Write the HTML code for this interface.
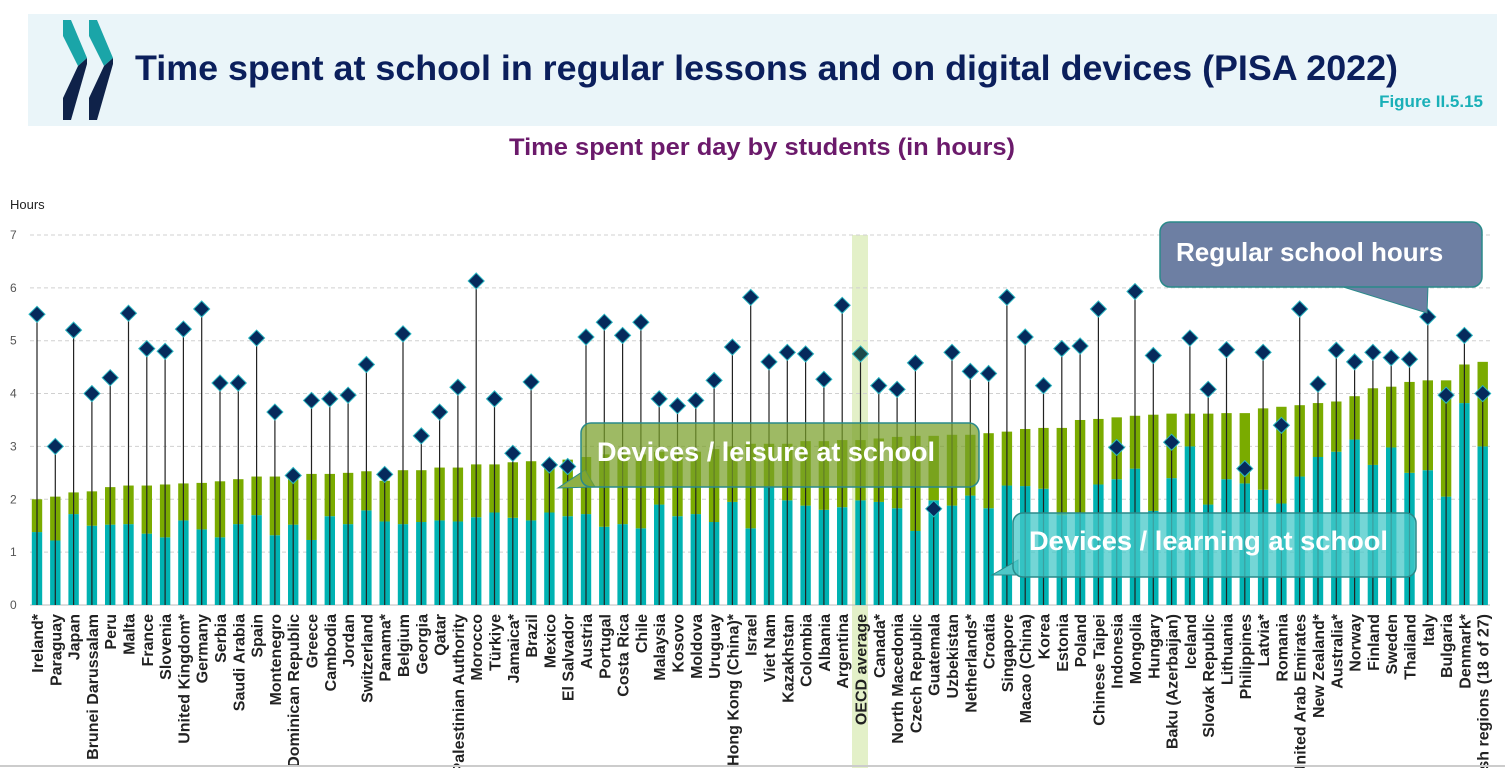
<!DOCTYPE html>
<html><head><meta charset="utf-8"><style>
body{margin:0;background:#fff;width:1505px;height:768px;overflow:hidden;font-family:"Liberation Sans",sans-serif}
svg{display:block}
</style></head><body>
<svg id="s" width="1505" height="768" xmlns="http://www.w3.org/2000/svg" font-family="Liberation Sans, sans-serif">
<rect x="28" y="14" width="1469" height="112" fill="#eaf5f9"/>
<polygon points="63,20 71,20 87,58 78,66 63,36" fill="#1aa5a8"/>
<polygon points="78,66 87,58 87,64 71,120 63,120 63,98" fill="#0f2249"/>
<polygon points="89,20 97,20 113,58 104,66 89,36" fill="#1aa5a8"/>
<polygon points="104,66 113,58 113,64 97,120 89,120 89,98" fill="#0f2249"/>
<text x="135" y="80" font-size="35" font-weight="bold" fill="#0b1f5c" textLength="1263" lengthAdjust="spacingAndGlyphs">Time spent at school in regular lessons and on digital devices (PISA 2022)</text>
<text x="1483" y="107" font-size="17" font-weight="bold" fill="#1ab0b8" text-anchor="end">Figure II.5.15</text>
<text x="762" y="155" font-size="24" font-weight="bold" fill="#6b1a6b" text-anchor="middle" textLength="506" lengthAdjust="spacingAndGlyphs">Time spent per day by students (in hours)</text>
<text x="10" y="209" font-size="13" fill="#222">Hours</text>
<rect x="852" y="235" width="16" height="533" fill="#e3f0c8"/>
<g id="grid" font-size="12" fill="#555"></g>
<g id="bars"></g>
<g id="labels" font-size="16" font-weight="bold" fill="#222" text-anchor="end">
<text>Ireland*</text><text>Paraguay</text><text>Japan</text><text>Brunei Darussalam</text><text>Peru</text><text>Malta</text><text>France</text><text>Slovenia</text><text>United Kingdom*</text><text>Germany</text><text>Serbia</text><text>Saudi Arabia</text><text>Spain</text><text>Montenegro</text><text>Dominican Republic</text><text>Greece</text><text>Cambodia</text><text>Jordan</text><text>Switzerland</text><text>Panama*</text><text>Belgium</text><text>Georgia</text><text>Qatar</text><text>Palestinian Authority</text><text>Morocco</text><text>Türkiye</text><text>Jamaica*</text><text>Brazil</text><text>Mexico</text><text>El Salvador</text><text>Austria</text><text>Portugal</text><text>Costa Rica</text><text>Chile</text><text>Malaysia</text><text>Kosovo</text><text>Moldova</text><text>Uruguay</text><text>Hong Kong (China)*</text><text>Israel</text><text>Viet Nam</text><text>Kazakhstan</text><text>Colombia</text><text>Albania</text><text>Argentina</text><text>OECD average</text><text>Canada*</text><text>North Macedonia</text><text>Czech Republic</text><text>Guatemala</text><text>Uzbekistan</text><text>Netherlands*</text><text>Croatia</text><text>Singapore</text><text>Macao (China)</text><text>Korea</text><text>Estonia</text><text>Poland</text><text>Chinese Taipei</text><text>Indonesia</text><text>Mongolia</text><text>Hungary</text><text>Baku (Azerbaijan)</text><text>Iceland</text><text>Slovak Republic</text><text>Lithuania</text><text>Philippines</text><text>Latvia*</text><text>Romania</text><text>United Arab Emirates</text><text>New Zealand*</text><text>Australia*</text><text>Norway</text><text>Finland</text><text>Sweden</text><text>Thailand</text><text>Italy</text><text>Bulgaria</text><text>Denmark*</text><text>Spanish regions (18 of 27)</text>
</g>
<g>
<path d="M595,487 L558,488 L585,470 Z" fill="#8fb045" stroke="#2a8a8a"/>
<rect x="581" y="423" width="398" height="64" rx="10" fill="rgba(120,160,40,0.72)" stroke="#2a8a8a" stroke-width="1.5"/>
<text x="597" y="461" font-size="27" font-weight="bold" fill="#fff" textLength="338" lengthAdjust="spacingAndGlyphs">Devices / leisure at school</text>
<path d="M1018,560 L992,575 L1018,575 Z" fill="#4fc8c8" stroke="#2a8a8a"/>
<rect x="1013" y="513" width="403" height="64" rx="10" fill="rgba(70,200,200,0.75)" stroke="#2a8a8a" stroke-width="1.5"/>
<text x="1029" y="550" font-size="27" font-weight="bold" fill="#fff" textLength="359" lengthAdjust="spacingAndGlyphs">Devices / learning at school</text>
<path d="M1340,286 L1427,313 L1428,286 Z" fill="#6d7fa3" stroke="#2a8a8a"/>
<rect x="1160" y="222" width="322" height="65" rx="10" fill="#6d7fa3" stroke="#2a8a8a" stroke-width="1.5"/>
<text x="1176" y="261" font-size="26" font-weight="bold" fill="#fff">Regular school hours</text>
</g>
<line x1="0" y1="766" x2="1505" y2="766" stroke="#ccc" stroke-width="2"/>
</svg>
<script>
var D=[[1.38,2.0,5.5],[1.22,2.05,3.0],[1.72,2.13,5.2],[1.5,2.15,4.0],[1.52,2.23,4.3],[1.53,2.26,5.52],[1.35,2.26,4.85],[1.28,2.28,4.8],[1.6,2.3,5.22],[1.43,2.31,5.6],[1.28,2.34,4.2],[1.53,2.38,4.2],[1.7,2.43,5.05],[1.32,2.43,3.65],[1.52,2.38,2.45],[1.23,2.48,3.87],[1.68,2.48,3.9],[1.53,2.5,3.97],[1.79,2.53,4.55],[1.58,2.35,2.47],[1.53,2.55,5.13],[1.57,2.55,3.2],[1.6,2.6,3.65],[1.58,2.6,4.12],[1.66,2.66,6.13],[1.75,2.66,3.9],[1.65,2.7,2.87],[1.6,2.72,4.22],[1.75,2.7,2.65],[1.68,2.75,2.62],[1.72,2.8,5.07],[1.48,2.85,5.35],[1.53,2.85,5.1],[1.45,2.85,5.35],[1.9,2.9,3.9],[1.68,2.9,3.77],[1.72,2.9,3.87],[1.57,2.95,4.25],[1.95,3.0,4.88],[1.45,3.05,5.82],[2.25,3.05,4.6],[1.98,3.05,4.78],[1.88,3.1,4.75],[1.8,3.1,4.27],[1.85,3.12,5.67],[1.98,3.12,4.75],[1.95,3.15,4.15],[1.83,3.18,4.08],[1.4,3.2,4.58],[1.98,3.2,1.82],[1.88,3.22,4.78],[2.07,3.22,4.42],[1.83,3.25,4.38],[2.26,3.28,5.82],[2.25,3.33,5.07],[2.2,3.35,4.15],[1.7,3.35,4.85],[1.75,3.5,4.9],[2.28,3.52,5.6],[2.38,3.55,2.98],[2.58,3.58,5.93],[1.78,3.6,4.72],[2.4,3.62,3.08],[3.0,3.62,5.05],[1.9,3.62,4.08],[2.38,3.63,4.83],[2.3,3.63,2.58],[2.18,3.72,4.78],[1.92,3.75,3.4],[2.43,3.78,5.6],[2.8,3.82,4.18],[2.9,3.85,4.82],[3.13,3.95,4.6],[2.65,4.1,4.78],[2.98,4.13,4.68],[2.5,4.22,4.65],[2.55,4.25,5.45],[2.05,4.25,3.97],[3.82,4.55,5.1],[3.0,4.6,4.0]];
var NS="http://www.w3.org/2000/svg";
function Y(v){return 605-v*52.86;}
function el(p,t,a){var e=document.createElementNS(NS,t);for(var k in a)e.setAttribute(k,a[k]);p.appendChild(e);return e;}
var g=document.getElementById('grid');
for(var i=0;i<=7;i++){var y=Y(i);el(g,'line',{x1:30,x2:1490,y1:y,y2:y,stroke:i?'#d0d0d0':'#bbb','stroke-dasharray':i?'4,3':'','stroke-width':1});var t=el(g,'text',{x:10,y:y+4});t.textContent=i;}
var b=document.getElementById('bars');
D.forEach(function(d,i){var x=37+i*18.3;
el(b,'rect',{x:x-5.2,y:Y(d[0]),width:10.4,height:d[0]*52.86,fill:'#00b2b2'});
el(b,'rect',{x:x-5.2,y:Y(d[1]),width:10.4,height:(d[1]-d[0])*52.86,fill:'#7aab00'});
el(b,'line',{x1:x,x2:x,y1:605,y2:Y(d[2]),stroke:'#222','stroke-width':1.2});
var yy=Y(d[2]);el(b,'polygon',{points:(x-8)+','+yy+' '+x+','+(yy-8)+' '+(x+8)+','+yy+' '+x+','+(yy+8),fill:i==45?'#1d4a4a':'#062a5c',stroke:'#29b5c0','stroke-width':1});
});
var L=document.getElementById('labels').children;
for(var i=0;i<L.length;i++){L[i].setAttribute('transform','translate('+(37+i*18.3+6)+',614) rotate(-90)');}
</script>
</body></html>
